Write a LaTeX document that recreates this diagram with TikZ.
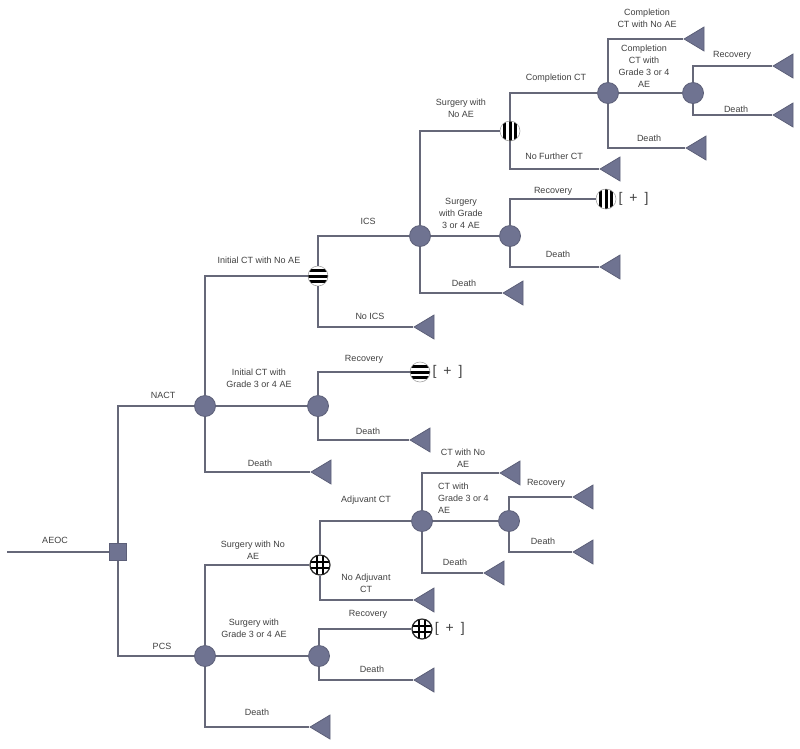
\documentclass[tikz,border=0pt]{standalone}
\usepackage{fontspec}
\setmainfont{Liberation Sans}
\usetikzlibrary{shapes.geometric}
\definecolor{lc}{HTML}{666879}
\definecolor{nf}{HTML}{6F7391}
\definecolor{nd}{HTML}{5C5F78}
\definecolor{tc}{HTML}{404040}
\tikzset{
  br/.style={draw=lc, line width=1.9pt},
  chance/.style={circle, minimum size=21pt, inner sep=0pt, fill=nf, draw=nd, line width=0.8pt},
  decision/.style={rectangle, minimum size=17pt, inner sep=0pt, fill=nf, draw=nd, line width=0.8pt},
  term/.style={isosceles triangle, shape border rotate=180, isosceles triangle stretches,
    minimum width=24pt, minimum height=20pt, inner sep=0pt, fill=nf, draw=nd, line width=0.8pt, anchor=apex},
  hstripe/.style={circle, minimum size=20pt, inner sep=0pt, fill=white, draw=gray!70, line width=0.6pt,
    path picture={\foreach \s in {-5.8,0,5.8}{\draw[black, line width=3pt]
      ([yshift=\s pt, xshift=-12pt]path picture bounding box.center) -- ++(24,0);}}},
  vstripe/.style={circle, minimum size=20pt, inner sep=0pt, fill=white, draw=gray!70, line width=0.6pt,
    path picture={\foreach \s in {-5.8,0,5.8}{\draw[black, line width=3pt]
      ([xshift=\s pt, yshift=-12pt]path picture bounding box.center) -- ++(0,-24);}}},
  gridc/.style={circle, minimum size=20pt, inner sep=0pt, fill=white, draw=black!85, line width=1.2pt,
    path picture={\foreach \s in {-3.3,3.3}{\draw[black, line width=2pt]
      ([xshift=\s pt, yshift=-12pt]path picture bounding box.center) -- ++(0,-24);
      \draw[black, line width=2pt]
      ([yshift=\s pt, xshift=-12pt]path picture bounding box.center) -- ++(24,0);}}},
  lab/.style={text=tc, font=\fontsize{9}{12}\selectfont, align=center, inner sep=0pt},
  plus/.style={text=black!75, font=\fontsize{14}{14}\selectfont, inner sep=0pt, anchor=west},
}
\begin{document}
\begin{tikzpicture}[x=1pt,y=-1pt]
\useasboundingbox (0,0) rectangle (800,748);
% nodes
\coordinate (start) at (7,552);
\node[decision] (d) at (118,552) {};
\node[chance] (nact) at (205,406) {};
\node[chance] (pcs) at (205,656) {};
\node[hstripe] (s1) at (318,276) {};
\node[chance] (c2) at (318,406) {};
\node[term] (t1) at (310,472) {};
\node[chance] (ics) at (420,236) {};
\node[term] (t2) at (413,327) {};
\node[hstripe] (sr1) at (420,372) {};
\node[term] (t3) at (409,440) {};
\node[vstripe] (s2) at (510,131) {};
\node[chance] (c3) at (510,236) {};
\node[term] (t4) at (502,293) {};
\node[chance] (cc) at (608,93) {};
\node[term] (t5) at (599,169) {};
\node[vstripe] (sr2) at (606,199) {};
\node[term] (t6) at (599,267) {};
\node[term] (t7) at (683,39) {};
\node[chance] (c4) at (693,93) {};
\node[term] (t8) at (685,148) {};
\node[term] (t9) at (772,66) {};
\node[term] (t10) at (772,115) {};
\node[gridc] (g1) at (320,565) {};
\node[chance] (c5) at (319,656) {};
\node[term] (t11) at (309,727) {};
\node[chance] (ac) at (422,521) {};
\node[term] (t12) at (413,600) {};
\node[gridc] (gr) at (422,629) {};
\node[term] (t13) at (413,680) {};
\node[term] (t14) at (499,473) {};
\node[chance] (c6) at (509,521) {};
\node[term] (t15) at (483,573) {};
\node[term] (t16) at (572,497) {};
\node[term] (t17) at (572,552) {};
% plus markers
\node[plus] (p1) at ([xshift=2pt]sr1.east) {[\enspace+\enspace]};
\node[plus] (p2) at ([xshift=2pt]sr2.east) {[\enspace+\enspace]};
\node[plus] (p3) at ([xshift=2pt]gr.east) {[\enspace+\enspace]};
% connectors
\draw[br] (start) -- (d);
\draw[br] (d) |- (nact);
\draw[br] (d) |- (pcs);
\draw[br] (nact) |- (s1);
\draw[br] (nact) -- (c2);
\draw[br] (nact) |- (t1);
\draw[br] (s1) |- (ics);
\draw[br] (s1) |- (t2);
\draw[br] (c2) |- (sr1);
\draw[br] (c2) |- (t3);
\draw[br] (ics) |- (s2);
\draw[br] (ics) -- (c3);
\draw[br] (ics) |- (t4);
\draw[br] (s2) |- (cc);
\draw[br] (s2) |- (t5);
\draw[br] (c3) |- (sr2);
\draw[br] (c3) |- (t6);
\draw[br] (cc) |- (t7);
\draw[br] (cc) -- (c4);
\draw[br] (cc) |- (t8);
\draw[br] (c4) |- (t9);
\draw[br] (c4) |- (t10);
\draw[br] (pcs) |- (g1);
\draw[br] (pcs) -- (c5);
\draw[br] (pcs) |- (t11);
\draw[br] (g1) |- (ac);
\draw[br] (g1) |- (t12);
\draw[br] (c5) |- (gr);
\draw[br] (c5) |- (t13);
\draw[br] (ac) |- (t14);
\draw[br] (ac) -- (c6);
\draw[br] (ac) |- (t15);
\draw[br] (c6) |- (t16);
\draw[br] (c6) |- (t17);
% labels
\node[lab] (l1) at (55,540) {AEOC};
\node[lab] (l2) at (163,395) {NACT};
\node[lab] (l3) at (162,646) {PCS};
\node[lab] (l4) at (259,260) {Initial CT with No AE};
\node[lab] (l5) at (259,378) {Initial CT with\\Grade 3 or 4 AE};
\node[lab] (l6) at (260,463) {Death};
\node[lab] (l7) at (368,221) {ICS};
\node[lab] (l8) at (370,316) {No ICS};
\node[lab] (l9) at (364,359) {Recovery};
\node[lab] (l10) at (368,431) {Death};
\node[lab] (l11) at (461,108) {Surgery with\\No AE};
\node[lab] (l12) at (461,213) {Surgery\\with Grade\\3 or 4 AE};
\node[lab] (l13) at (464,283) {Death};
\node[lab] (l14) at (556,78) {Completion CT};
\node[lab] (l15) at (554,156) {No Further CT};
\node[lab] (l16) at (553,191) {Recovery};
\node[lab] (l17) at (558,254) {Death};
\node[lab] (l18) at (647,18) {Completion\\CT with No AE};
\node[lab] (l19) at (644,66) {Completion\\CT with\\Grade 3 or 4\\AE};
\node[lab] (l20) at (649,138) {Death};
\node[lab] (l21) at (732,55) {Recovery};
\node[lab] (l22) at (736,109) {Death};
\node[lab] (l23) at (253,550) {Surgery with No\\AE};
\node[lab] (l24) at (254,628) {Surgery with\\Grade 3 or 4 AE};
\node[lab] (l25) at (257,712) {Death};
\node[lab] (l26) at (366,500) {Adjuvant CT};
\node[lab] (l27) at (366,583) {No Adjuvant\\CT};
\node[lab] (l28) at (368,614) {Recovery};
\node[lab] (l29) at (372,669) {Death};
\node[lab] (l30) at (463,458) {CT with No\\AE};
\node[lab, align=left, anchor=west] (l31) at (438,498) {CT with\\Grade 3 or 4\\AE};
\node[lab] (l32) at (455,562) {Death};
\node[lab] (l33) at (546,483) {Recovery};
\node[lab] (l34) at (543,541) {Death};
\end{tikzpicture}
\end{document}
